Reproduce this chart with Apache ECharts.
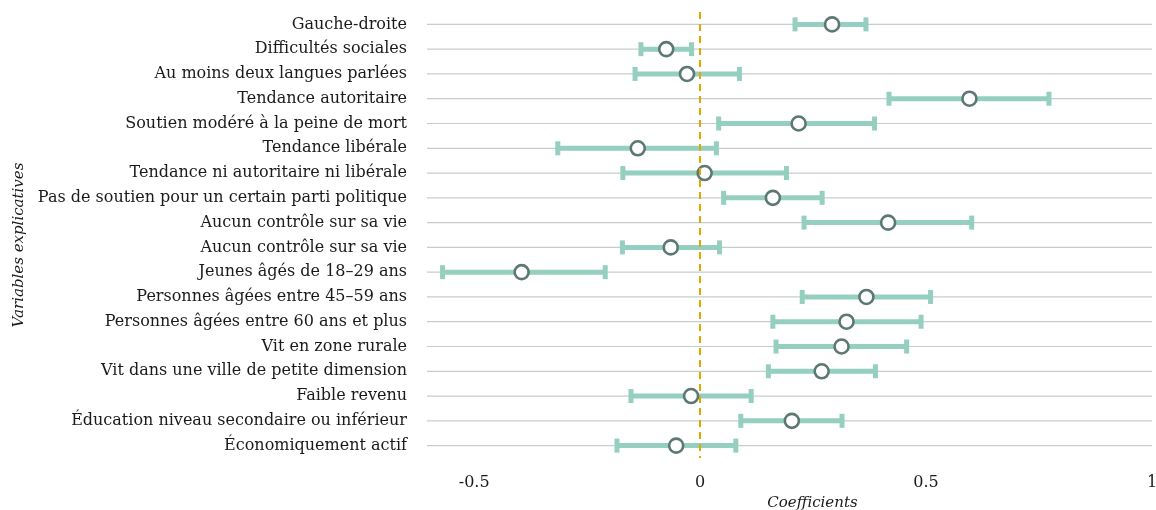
<!DOCTYPE html>
<html>
<head>
<meta charset="utf-8">
<script src="https://cdn.jsdelivr.net/npm/echarts@6/dist/echarts.min.js"></script>
<style>
  html, body { margin: 0; padding: 0; background: #fff; }
  #main { width: 1156px; height: 510px; }
</style>
</head>
<body>
<div id="main"></div>
<script>
// variables explicatives, de haut en bas
var categories = [
    'Gauche-droite',
    'Difficultés sociales',
    'Au moins deux langues parlées',
    'Tendance autoritaire',
    'Soutien modéré à la peine de mort',
    'Tendance libérale',
    'Tendance ni autoritaire ni libérale',
    'Pas de soutien pour un certain parti politique',
    'Aucun contrôle sur sa vie',
    'Aucun contrôle sur sa vie',
    'Jeunes âgés de 18–29 ans',
    'Personnes âgées entre 45–59 ans',
    'Personnes âgées entre 60 ans et plus',
    'Vit en zone rurale',
    'Vit dans une ville de petite dimension',
    'Faible revenu',
    'Éducation niveau secondaire ou inférieur',
    'Économiquement actif'
];
var coef  = [0.292, -0.075, -0.029, 0.596, 0.218, -0.138, 0.010, 0.161, 0.416, -0.065, -0.395, 0.368, 0.324, 0.313, 0.269, -0.020, 0.203, -0.053];
var lower = [0.210, -0.131, -0.144, 0.418, 0.041, -0.315, -0.171, 0.052, 0.230, -0.172, -0.570, 0.226, 0.161, 0.168, 0.151, -0.153, 0.090, -0.184];
var upper = [0.367, -0.019, 0.087, 0.772, 0.386, 0.036, 0.191, 0.270, 0.601, 0.043, -0.210, 0.510, 0.489, 0.457, 0.388, 0.113, 0.314, 0.079];
var xTicks = [-0.5, 0, 0.5, 1];

var FONT = 'DejaVu Serif';
var chart = echarts.init(document.getElementById('main'));

var barData = categories.map(function (c, i) { return [i, lower[i], upper[i]]; });
var pointData = categories.map(function (c, i) { return [coef[i], i]; });

var option = {
    backgroundColor: '#fff',
    animation: false,
    textStyle: { fontFamily: FONT },
    grid: { left: 429, right: 4, top: 12, bottom: 52, outerBoundsMode: 'none' },
    xAxis: {
        type: 'value',
        min: -0.6,
        max: 1,
        name: 'Coefficients',
        nameLocation: 'middle',
        nameGap: 38,
        nameTextStyle: { fontFamily: FONT, fontStyle: 'italic', fontSize: 15, color: '#1a1a1a', padding: [0, 0, 0, 44] },
        axisLine: { show: false },
        axisTick: { show: false },
        splitLine: { show: false },
        axisLabel: {
            customValues: xTicks,
            margin: 17,
            fontFamily: FONT, fontSize: 16, color: '#1a1a1a',
            formatter: function (v) { return String(v); }
        }
    },
    yAxis: {
        type: 'category',
        inverse: true,
        data: categories,
        name: 'Variables explicatives',
        nameLocation: 'middle',
        nameGap: 402,
        nameTextStyle: { fontFamily: FONT, fontStyle: 'italic', fontSize: 15, color: '#1a1a1a', padding: [0, 20, 0, 0] },
        axisLine: { show: false },
        axisTick: { show: false },
        splitLine: { show: false },
        axisLabel: { margin: 22, fontFamily: FONT, fontSize: 16, color: '#1a1a1a' }
    },
    series: [
        {
            // lignes horizontales de chaque variable
            type: 'custom',
            z: 0,
            silent: true,
            data: categories.map(function (c, i) { return [i]; }),
            renderItem: function (params, api) {
                var y = api.coord([0, api.value(0)])[1];
                var cs = params.coordSys;
                return {
                    type: 'line',
                    shape: { x1: cs.x - 2, y1: y, x2: cs.x + cs.width, y2: y },
                    style: { stroke: '#c6cdcc', lineWidth: 1.2 }
                };
            }
        },
        {
            type: 'line',
            z: 1,
            data: [],
            markLine: {
                silent: true,
                symbol: 'none',
                label: { show: false },
                lineStyle: { color: '#e2a800', width: 2, type: [7, 5] },
                data: [{ xAxis: 0 }]
            }
        },
        {
            // intervalles de confiance
            type: 'custom',
            z: 2,
            data: barData,
            encode: { x: [1, 2], y: 0 },
            renderItem: function (params, api) {
                var idx = api.value(0);
                var p1 = api.coord([api.value(1), idx]);
                var p2 = api.coord([api.value(2), idx]);
                var col = '#95cfbf';
                var capH = 14, capW = 5;
                return {
                    type: 'group',
                    children: [
                        { type: 'line', shape: { x1: p1[0], y1: p1[1], x2: p2[0], y2: p2[1] }, style: { stroke: col, lineWidth: 5 } },
                        { type: 'rect', shape: { x: p1[0] - capW / 2, y: p1[1] - capH / 2, width: capW, height: capH }, style: { fill: col } },
                        { type: 'rect', shape: { x: p2[0] - capW / 2, y: p2[1] - capH / 2, width: capW, height: capH }, style: { fill: col } }
                    ]
                };
            }
        },
        {
            type: 'scatter',
            z: 3,
            data: pointData,
            symbol: 'circle',
            symbolSize: 14,
            itemStyle: { color: '#fff', borderColor: '#5d7874', borderWidth: 2.6, opacity: 1 }
        }
    ]
};
chart.setOption(option);
</script>
</body>
</html>
